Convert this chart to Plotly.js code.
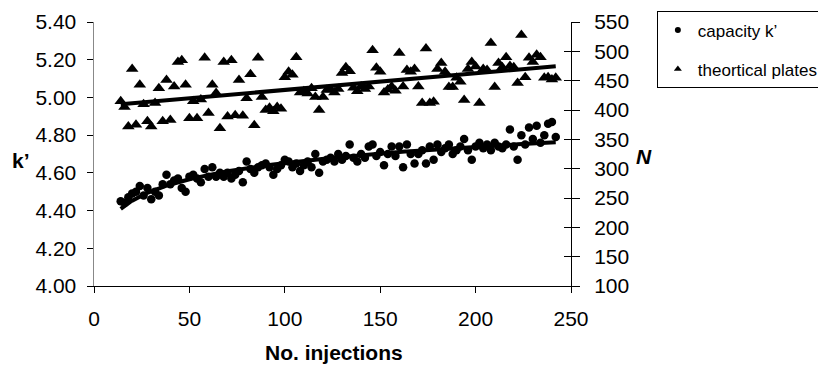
<!DOCTYPE html>
<html>
<head>
<meta charset="utf-8">
<script src="https://cdn.plot.ly/plotly-3.0.1.min.js"></script>
<style>html,body{margin:0;padding:0;background:#fff;}#chart{width:818px;height:367px;}</style>
</head>
<body>
<div id="chart"></div>
<script>
// Injection numbers (shared by both series)
const injections = [14,16,18,20,22,24,26,28,30,32,34,36,38,40,42,44,46,48,50,52,54,56,58,60,62,64,66,68,70,72,74,76,78,80,82,84,86,88,90,92,94,96,98,100,102,104,106,108,110,112,114,116,118,120,122,124,126,128,130,132,134,136,138,140,142,144,146,148,150,152,154,156,158,160,162,164,166,168,170,172,174,176,178,180,182,184,186,188,190,192,194,196,198,200,202,204,206,208,210,212,214,216,218,220,222,224,226,228,230,232,234,236,238,240,242];

// capacity k' (left axis)
const capacityK = [4.45,4.44,4.47,4.49,4.50,4.53,4.48,4.52,4.46,4.50,4.48,4.54,4.59,4.54,4.56,4.57,4.52,4.50,4.58,4.59,4.57,4.55,4.62,4.58,4.63,4.58,4.60,4.58,4.60,4.57,4.59,4.61,4.55,4.66,4.62,4.60,4.63,4.64,4.65,4.63,4.59,4.62,4.64,4.67,4.66,4.63,4.65,4.61,4.64,4.66,4.63,4.70,4.60,4.66,4.67,4.68,4.66,4.70,4.67,4.69,4.75,4.68,4.66,4.70,4.68,4.74,4.75,4.69,4.71,4.64,4.70,4.74,4.69,4.74,4.63,4.75,4.70,4.65,4.70,4.72,4.65,4.74,4.67,4.75,4.71,4.73,4.75,4.70,4.72,4.74,4.78,4.72,4.67,4.74,4.76,4.73,4.75,4.72,4.76,4.74,4.73,4.75,4.83,4.74,4.67,4.80,4.75,4.84,4.78,4.85,4.76,4.80,4.86,4.87,4.79];

// theortical plates N (right axis)
const plates = [415,405,372,470,375,443,410,381,372,412,437,381,451,383,440,482,485,443,386,415,386,418,489,395,443,429,369,482,389,485,391,451,390,420,461,374,489,422,400,404,398,405,402,456,465,460,490,430,432,428,437,422,400,422,434,435,430,436,463,473,466,438,432,440,436,440,502,472,465,430,435,440,433,497,440,468,465,470,440,412,505,412,414,470,480,465,439,439,455,448,417,470,482,474,412,470,468,514,439,480,473,490,475,473,446,528,456,489,482,494,490,455,456,452,455];

const xTicks = [0,50,100,150,200,250];
const seriesNames = ['capacity k’', 'theortical plates'];

// Trend lines fitted from the data
function fit(xs, ys){
  const n = xs.length;
  const mx = xs.reduce((a,b)=>a+b,0)/n, my = ys.reduce((a,b)=>a+b,0)/n;
  let sxy=0, sxx=0;
  for(let i=0;i<n;i++){ sxy += (xs[i]-mx)*(ys[i]-my); sxx += (xs[i]-mx)*(xs[i]-mx); }
  const b = sxy/sxx; return {a: my - b*mx, b: b};
}
const linN = fit(injections, plates);
const logK = fit(injections.map(Math.log), capacityK);
const trendX = [];
for(let v = injections[0]; v <= injections[injections.length-1]; v += 1) trendX.push(v);
const trendN = trendX.map(v => linN.a + linN.b*v);
const trendK = trendX.map(v => logK.a + logK.b*Math.log(v));

const FONT = 'Liberation Sans, Arial, sans-serif';
const FS = 21;

const traces = [
  {x: injections, y: capacityK, type:'scatter', mode:'markers', name:seriesNames[0],
   marker:{symbol:'circle', size:8.5, color:'#000'}, yaxis:'y', showlegend:false},
  {x: injections, y: plates, type:'scatter', mode:'markers', name:seriesNames[1],
   marker:{symbol:'triangle-up', size:11, color:'#000'}, yaxis:'y2', showlegend:false},
  {x: trendX, y: trendN, type:'scatter', mode:'lines', line:{color:'#000', width:4},
   yaxis:'y2', showlegend:false, hoverinfo:'skip'},
  {x: trendX, y: trendK, type:'scatter', mode:'lines', line:{color:'#000', width:4},
   yaxis:'y', showlegend:false, hoverinfo:'skip'},
  {x:[null], y:[null], yaxis:'y3', showlegend:false, hoverinfo:'skip', type:'scatter'},
  // legend entries (small symbols as in the original legend)
  {x:[null], y:[null], type:'scatter', mode:'markers', name:seriesNames[0],
   marker:{symbol:'circle', size:6, color:'#000'}, legendgroup:'a'},
  {x:[null], y:[null], type:'scatter', mode:'markers', name:seriesNames[1],
   marker:{symbol:'triangle-up', size:7, color:'#000'}, legendgroup:'b'}
];

const layout = {
  width: 818, height: 367,
  margin: {l:94, r:247, t:22, b:81, pad:0, autoexpand:false},
  paper_bgcolor:'#fff', plot_bgcolor:'#fff',
  font: {family: FONT, size: FS, color:'#000'},
  showlegend: true,
  legend: {x: 1.18, xanchor:'left', y: 1.04, yanchor:'top',
           bordercolor:'#000', borderwidth:1, bgcolor:'#fff',
           font:{family: FONT, size:17, color:'#000'},
           tracegroupgap: 14, itemwidth: 30},
  xaxis: {range:[0,250], tickvals: xTicks, ticks:'outside', ticklen:6, tickcolor:'#000',
          showline:true, linecolor:'#000', linewidth:1, showgrid:false, zeroline:false,
          ticklabelstandoff: 8, tickfont:{size:FS}},
  yaxis: {range:[4.0,5.4], dtick:0.2, tick0:4.0, tickformat:'.2f', ticks:'outside', ticklen:6,
          tickcolor:'#000', showline:true, linecolor:'#888', linewidth:1.5, showgrid:false,
          zeroline:false, ticklabelstandoff: 6, tickfont:{size:FS}},
  yaxis2: {range:[100,550], dtick:50, tick0:100, overlaying:'y', side:'right', anchor:'x',
           ticks:'outside', ticklen:8, tickcolor:'#000', showline:true, linecolor:'#000',
           linewidth:1, showgrid:false, zeroline:false, ticklabelstandoff: 10, tickfont:{size:FS}},
  yaxis3: {range:[100,550], dtick:50, tick0:100, overlaying:'y', side:'right', anchor:'x',
           ticks:'inside', ticklen:7, tickcolor:'#000', showticklabels:false, showline:false,
           showgrid:false, zeroline:false},
  annotations: [
    {text:'<b>k’</b>', xref:'paper', yref:'paper', x:-0.153, y:0.477, xanchor:'center', yanchor:'middle',
     showarrow:false, font:{family:FONT, size:FS, color:'#000'}},
    {text:'<b><i>N</i></b>', xref:'paper', yref:'paper', x:1.153, y:0.492, xanchor:'center', yanchor:'middle',
     showarrow:false, font:{family:FONT, size:FS, color:'#000'}},
    {text:'<b>No. injections</b>', xref:'paper', yref:'paper', x:0.503, y:-0.25, xanchor:'center', yanchor:'middle',
     showarrow:false, font:{family:FONT, size:FS, color:'#000'}}
  ]
};

Plotly.newPlot('chart', traces, layout, {displayModeBar:false, staticPlot:true});
</script>
</body>
</html>
